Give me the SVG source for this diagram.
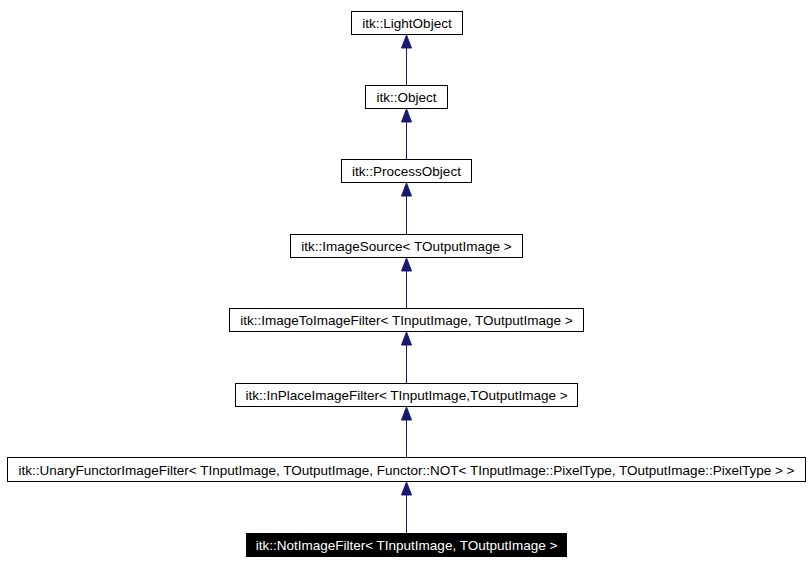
<svg xmlns="http://www.w3.org/2000/svg" width="812" height="564" viewBox="0 0 812 564">
<style>
rect{fill:#fff;stroke:#000;stroke-width:1}
text{font-family:"Liberation Sans",Arial,sans-serif;font-size:13.5px;text-anchor:middle;fill:#000}
.e{stroke:#191970;stroke-width:1;fill:none}
.h{fill:#191970;stroke:#191970}
</style>
<rect width="812" height="564" style="fill:#fff;stroke:none"/>
<g id="connectors">
<path class="e" d="M406.5,85V46 M406.5,159V120 M406.5,234V194 M406.5,308V269 M406.5,383V343 M406.5,457V418 M406.5,533V494"/>
<path class="h" d="M406.5,35l-5,13h10z M406.5,109l-5,13h10z M406.5,183l-5,13h10z M406.5,258l-5,13h10z M406.5,332l-5,13h10z M406.5,407l-5,13h10z M406.5,482l-5,13h10z"/>
</g>
<g id="n1"><rect x="351.5" y="11.5" width="111" height="23"/><text x="407" y="28">itk::LightObject</text></g>
<g id="n2"><rect x="365.5" y="85.5" width="82" height="23"/><text x="406.5" y="102">itk::Object</text></g>
<g id="n3"><rect x="341.5" y="159.5" width="130" height="23"/><text x="406.5" y="176">itk::ProcessObject</text></g>
<g id="n4"><rect x="290.5" y="234.5" width="232" height="23"/><text x="406.5" y="251">itk::ImageSource&lt; TOutputImage &gt;</text></g>
<g id="n5"><rect x="229.5" y="308.5" width="354" height="23"/><text x="406.5" y="325">itk::ImageToImageFilter&lt; TInputImage, TOutputImage &gt;</text></g>
<g id="n6"><rect x="235.5" y="383.5" width="342" height="23"/><text x="406.5" y="400">itk::InPlaceImageFilter&lt; TInputImage,TOutputImage &gt;</text></g>
<g id="n7"><rect x="7.5" y="457.5" width="798" height="24"/><text x="406.5" y="475">itk::UnaryFunctorImageFilter&lt; TInputImage, TOutputImage, Functor::NOT&lt; TInputImage::PixelType, TOutputImage::PixelType &gt; &gt;</text></g>
<g id="n8"><rect x="246.5" y="533.5" width="320" height="23" style="fill:#000"/><text x="406.5" y="550" style="fill:#fff">itk::NotImageFilter&lt; TInputImage, TOutputImage &gt;</text></g>
</svg>
